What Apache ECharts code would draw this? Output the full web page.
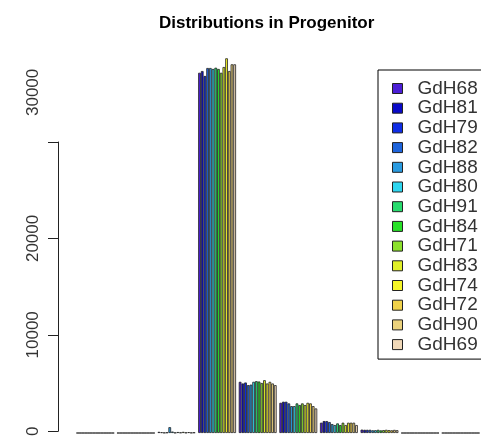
<!DOCTYPE html>
<html>
<head>
<meta charset="utf-8">
<script src="https://cdn.jsdelivr.net/npm/echarts@6/dist/echarts.min.js"></script>
<style>
html,body{margin:0;padding:0;background:#fff;}
#chart{width:481px;height:439px;}
</style>
</head>
<body>
<div id="chart"></div>
<script>
// Categories (groups) — no visible labels in the reference
var categories = ['1','2','3','4','5','6','7','8','9','10'];
var seriesNames = ['GdH68','GdH81','GdH79','GdH82','GdH88','GdH80','GdH91','GdH84','GdH71','GdH83','GdH74','GdH72','GdH90','GdH69'];
var seriesColors = ['#4B1FD6','#0A0AC8','#0F2DE6','#1E64DC','#2A9BE0','#2ED6F0','#28DC6E','#28E128','#8CE12D','#E1F028','#F5F528','#F0D24B','#EBD27D','#F0D8B8'];
var yTicks = [0, 10000, 20000, 30000];

// values per series across the 10 groups
var GdH68 = [0, 0, 120, 37100, 5270, 3110, 1060, 350, 0, 0];
var GdH81 = [0, 0, 80, 37280, 5100, 3220, 1230, 330, 0, 0];
var GdH79 = [0, 0, 30, 36770, 5200, 3220, 1230, 330, 0, 0];
var GdH82 = [0, 0, 60, 37590, 4930, 3050, 1130, 330, 0, 0];
var GdH88 = [0, 0, 600, 37590, 4980, 2770, 920, 280, 0, 0];
var GdH80 = [0, 0, 150, 37490, 5270, 2770, 820, 290, 0, 0];
var GdH91 = [0, 0, 30, 37620, 5340, 3050, 990, 330, 0, 0];
var GdH84 = [0, 0, 100, 37490, 5300, 2880, 820, 270, 0, 0];
var GdH71 = [0, 0, 50, 37100, 5150, 3050, 1060, 300, 0, 0];
var GdH83 = [0, 0, 120, 37690, 5440, 2880, 820, 330, 0, 0];
var GdH74 = [0, 0, 40, 38590, 5100, 3110, 1060, 300, 0, 0];
var GdH72 = [0, 0, 90, 37280, 5270, 3050, 1060, 280, 0, 0];
var GdH90 = [0, 0, 30, 37970, 5100, 2770, 1060, 320, 0, 0];
var GdH69 = [0, 0, 60, 37970, 4930, 2530, 820, 290, 0, 0];
var seriesData = [GdH68,GdH81,GdH79,GdH82,GdH88,GdH80,GdH91,GdH84,GdH71,GdH83,GdH74,GdH72,GdH90,GdH69];

var chart = echarts.init(document.getElementById('chart'), null, {renderer:'canvas'});
var series = seriesNames.map(function(n, i){
  return {
    name: n, type: 'bar', xAxisIndex: 0, yAxisIndex: 0,
    data: seriesData[i],
    barGap: '0%', barCategoryGap: '6.7%',
    itemStyle: {color: seriesColors[i], borderColor: '#222', borderWidth: 0.8},
    emphasis: {disabled: true},
    animation: false
  };
});
var yMax = yTicks[yTicks.length-1];
chart.setOption({
  animation: false,
  title: {
    text: 'Distributions in Progenitor', left: 154, top: 10,
    textStyle: {fontFamily: 'Liberation Sans, Arial', fontWeight: 'bold', fontSize: 17, color: '#000'}
  },
  legend: {
    orient: 'vertical', left: 378, top: 70,
    data: seriesNames,
    icon: 'rect', itemWidth: 10, itemHeight: 10, itemGap: 0.7,
    borderColor: '#000', borderWidth: 1, borderRadius: 0,
    padding: [9, 80, 5, 14],
    itemStyle: {borderColor: '#222', borderWidth: 1},
    textStyle: {fontFamily: 'Liberation Sans, Arial', fontSize: 19, color: '#333', lineHeight: 16, padding: [0,0,0,10]},
    selectedMode: false
  },
  grid: [
    {left: 75, right: -6, top: 44.6, bottom: 6, containLabel: false},
    {left: 58, width: 1, top: 142, bottom: 6, containLabel: false}
  ],
  xAxis: [
    {type: 'category', gridIndex: 0, data: categories, show: false},
    {type: 'value', gridIndex: 1, show: false}
  ],
  yAxis: [
    {type: 'value', gridIndex: 0, min: 0, max: 40000, show: false},
    {type: 'value', gridIndex: 1, min: yTicks[0], max: yMax, interval: 10000,
     axisLine: {show: true, lineStyle: {color: '#222', width: 1}},
     axisTick: {show: true, length: 10, lineStyle: {color: '#222'}},
     splitLine: {show: false},
     axisLabel: {rotate: 90, margin: 16, fontFamily: 'Liberation Sans, Arial', fontSize: 17, color: '#333',
       alignMaxLabel: 'left',
       formatter: function(v){ return v === yMax ? '{m|' + v + '}' : String(v); },
       rich: {m: {padding: [0, 0, 0, 26], fontFamily: 'Liberation Sans, Arial', fontSize: 17, color: '#333'}}
     }
    }
  ],
  series: series
});
</script>
</body>
</html>
